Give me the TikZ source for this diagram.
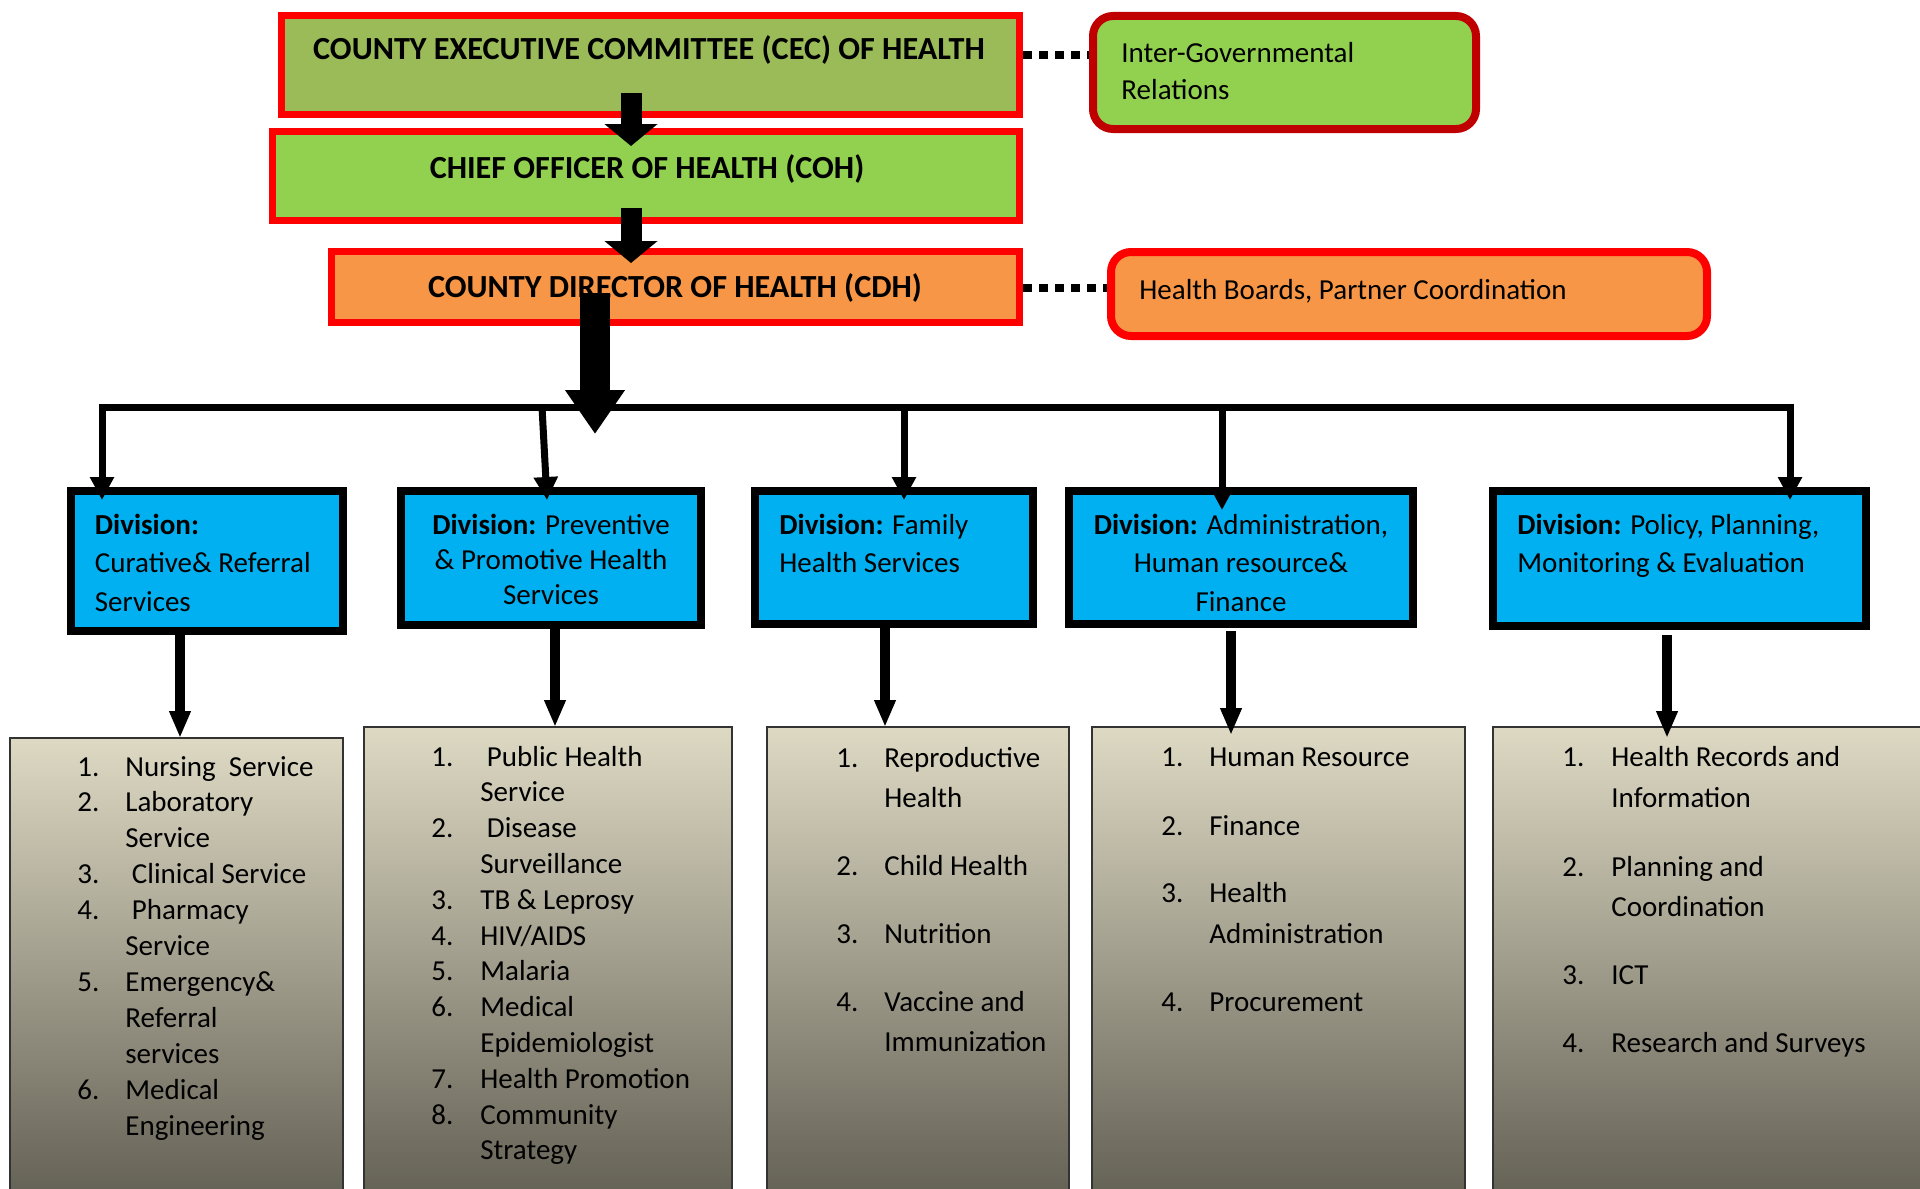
\documentclass[tikz,border=0pt]{standalone}
\usepackage{fontspec}
\setmainfont{Carlito}
\usetikzlibrary{arrows.meta,fit}
\definecolor{cecgreen}{HTML}{9BBB59}
\definecolor{cohgreen}{HTML}{92D050}
\definecolor{cdhorange}{HTML}{F79646}
\definecolor{redline}{HTML}{FF0000}
\definecolor{darkred}{HTML}{C00000}
\definecolor{divblue}{HTML}{00B0F0}
\definecolor{listtop}{HTML}{DDD9C3}
\definecolor{listbot}{HTML}{5E5B50}
\definecolor{listedge}{HTML}{333333}
\newcommand\myfs{\fontsize{14.5}{17.5}\selectfont}
\newcommand\myttlfs{\fontsize{16.1}{19}\selectfont}
\begin{document}
\begin{tikzpicture}[x=0.5pt,y=-0.5pt,
 topbox/.style={draw=redline, line width=3.5pt, inner sep=0pt, rectangle},
 sidebox/.style={line width=4pt, rounded corners=10pt, inner sep=0pt, rectangle},
 divbox/.style={draw=black, fill=divblue, line width=4pt, inner sep=0pt, rectangle},
 listbox/.style={draw=listedge, line width=1pt, inner sep=0pt, rectangle, top color=listtop, bottom color=listbot},
 txt/.style={inner sep=0pt, font=\myfs, anchor=base west},
 ctxt/.style={inner sep=0pt, font=\myfs, anchor=base},
 ttl/.style={inner sep=0pt, font=\myttlfs\bfseries, anchor=base},
 blockarrow/.style={line width=10.5pt, -{Triangle[width=26pt,length=11pt]}},
 bigarrow/.style={line width=15pt, -{Triangle[width=28.5pt,length=22pt]}},
 busline/.style={line width=3.5pt},
 brancharrow/.style={line width=3.5pt, -{Triangle[width=11.5pt,length=11.5pt]}},
 downarrow/.style={line width=5pt, -{Triangle[width=10pt,length=13.5pt]}},
 dotline/.style={line width=4pt, dash pattern=on 4.5pt off 3.5pt},
]
\clip (0,0) rectangle (1920,1188);
\fill[white] (0,0) rectangle (1920,1188);

% ---- top boxes
\node[topbox, fill=cecgreen, fit={(281.5,15.5) (1019.5,114.5)}] (cec) {};
\node[topbox, fill=cohgreen, fit={(272.5,131.5) (1019.5,220.5)}] (coh) {};
\node[topbox, fill=cdhorange, fit={(331.5,251.5) (1019.5,322.5)}] (cdh) {};
\node[sidebox, draw=darkred, fill=cohgreen, fit={(1093,16) (1476,129)}] (ig) {};
\node[sidebox, draw=redline, fill=cdhorange, fit={(1111,252) (1707,336)}] (hb) {};

\node[ttl] (cect) at (649,60) {COUNTY EXECUTIVE COMMITTEE (CEC) OF HEALTH};
\node[ttl] (coht) at (647,178) {CHIEF OFFICER OF HEALTH (COH)};
\node[ttl] (cdht) at (675,297) {COUNTY DIRECTOR OF HEALTH (CDH)};
\node[txt] (igt1) at (1121,63) {Inter-Governmental};
\node[txt] (igt2) at (1121,99) {Relations};
\node[txt] (hbt) at (1139,299) {Health Boards, Partner Coordination};

\draw[dotline] (cec.east |- 0,55) -- (ig.west |- 0,55);
\draw[dotline] (cdh.east |- 0,288) -- (hb.west |- 0,288);

% ---- divisions
\node[divbox, fit={(71,491) (343,631)}] (d1) {};
\node[divbox, fit={(401,491) (701,625)}] (d2) {};
\node[divbox, fit={(755,491) (1033,624)}] (d3) {};
\node[divbox, fit={(1069,491) (1413,624)}] (d4) {};
\node[divbox, fit={(1493,491) (1866,626)}] (d5) {};

\node[txt] (d1t1) at (94.5,534) {\textbf{Division:}};
\node[txt] (d1t2) at (94.5,572) {Curative\& Referral};
\node[txt] (d1t3) at (94.5,611) {Services};
\node[ctxt] (d2t1) at (551,534) {\textbf{Division:} Preventive};
\node[ctxt] (d2t2) at (551,569) {\& Promotive Health};
\node[ctxt] (d2t3) at (551,604) {Services};
\node[txt] (d3t1) at (779,534) {\textbf{Division:} Family};
\node[txt] (d3t2) at (779,572) {Health Services};
\node[ctxt] (d4t1) at (1241,534) {\textbf{Division:} Administration,};
\node[ctxt] (d4t2) at (1241,572) {Human resource\&};
\node[ctxt] (d4t3) at (1241,611) {Finance};
\node[txt] (d5t1) at (1517,534) {\textbf{Division:} Policy, Planning,};
\node[txt] (d5t2) at (1517,572) {Monitoring \& Evaluation};

% ---- lists
\node[listbox, fit={(10,738) (343,1220)}] (l1) {};
\node[listbox, fit={(364,727) (732,1220)}] (l2) {};
\node[listbox, fit={(767,727) (1069,1220)}] (l3) {};
\node[listbox, fit={(1092,727) (1465,1220)}] (l4) {};
\node[listbox, fit={(1493,727) (1940,1220)}] (l5) {};

\foreach \t [count=\i from 0] in {Nursing\ \ Service, Laboratory, Service, \ Clinical Service, \ Pharmacy, Service, Emergency\&, Referral, services, Medical, Engineering}
  \node[txt] (l1t\i) at (125,{776+35.9*\i}) {\t};
\foreach \n/\r in {1/0,2/1,3/3,4/4,5/6,6/9}
  \node[txt] (l1n\n) at (77,{776+35.9*\r}) {\n.};

\foreach \t [count=\i from 0] in {\ Public Health, Service, \ Disease, Surveillance, TB \& Leprosy, HIV/AIDS, Malaria, Medical, Epidemiologist, Health Promotion, Community, Strategy}
  \node[txt] (l2t\i) at (480,{766+35.8*\i}) {\t};
\foreach \n/\r in {1/0,2/2,3/4,4/5,5/6,6/7,7/9,8/10}
  \node[txt] (l2n\n) at (431,{766+35.8*\r}) {\n.};

\foreach \t/\y [count=\i] in {Reproductive/767, Health/807, Child Health/875, Nutrition/943, Vaccine and/1011, Immunization/1051}
  \node[txt] (l3t\i) at (884,\y) {\t};
\foreach \n/\y in {1/767,2/875,3/943,4/1011}
  \node[txt] (l3n\n) at (836,\y) {\n.};

\foreach \t/\y [count=\i] in {Human Resource/766, Finance/835, Health/902, Administration/943, Procurement/1011}
  \node[txt] (l4t\i) at (1209,\y) {\t};
\foreach \n/\y in {1/766,2/835,3/902,4/1011}
  \node[txt] (l4n\n) at (1161,\y) {\n.};

\foreach \t/\y [count=\i] in {Health Records and/766, Information/807, Planning and/876, Coordination/916, ICT/984, Research and Surveys/1052}
  \node[txt] (l5t\i) at (1611,\y) {\t};
\foreach \n/\y in {1/766,2/876,3/984,4/1052}
  \node[txt] (l5n\n) at (1562,\y) {\n.};

% ---- connectors
\coordinate (a1s) at (631,93);   \coordinate (a1e) at (631,146);
\coordinate (a2s) at (631,208);  \coordinate (a2e) at (631,263);
\coordinate (a3s) at (595,293);  \coordinate (a3e) at (595,434);
\draw[blockarrow] (a1s) -- (a1e);
\draw[blockarrow] (a2s) -- (a2e);

\coordinate (busL) at (98.5,407); \coordinate (busR) at (1793.5,407);
\draw[busline] (busL) -- (busR);
\coordinate (b1) at (102,403.5);  \coordinate (t1) at (102,500);
\coordinate (b2) at (542,407);    \coordinate (t2) at (547,500);
\coordinate (b3) at (904,407);    \coordinate (t3) at (904,500);
\coordinate (b4) at (1222,407);   \coordinate (t4) at (1222,510);
\coordinate (b5) at (1790,403.5); \coordinate (t5) at (1790,500);
\foreach \k in {1,...,5} \draw[brancharrow] (b\k) -- (t\k);
\draw[bigarrow] (a3s) -- (a3e);

\coordinate (s1) at (180,632);  \coordinate (e1) at (180,738);
\coordinate (s2) at (555,626);  \coordinate (e2) at (555,727);
\coordinate (s3) at (885,626);  \coordinate (e3) at (885,727);
\coordinate (s4) at (1231,631); \coordinate (e4) at (1231,735);
\coordinate (s5) at (1667,635); \coordinate (e5) at (1667,738);
\foreach \k in {1,...,5} \draw[downarrow] (s\k) -- (e\k);
\end{tikzpicture}
\end{document}
